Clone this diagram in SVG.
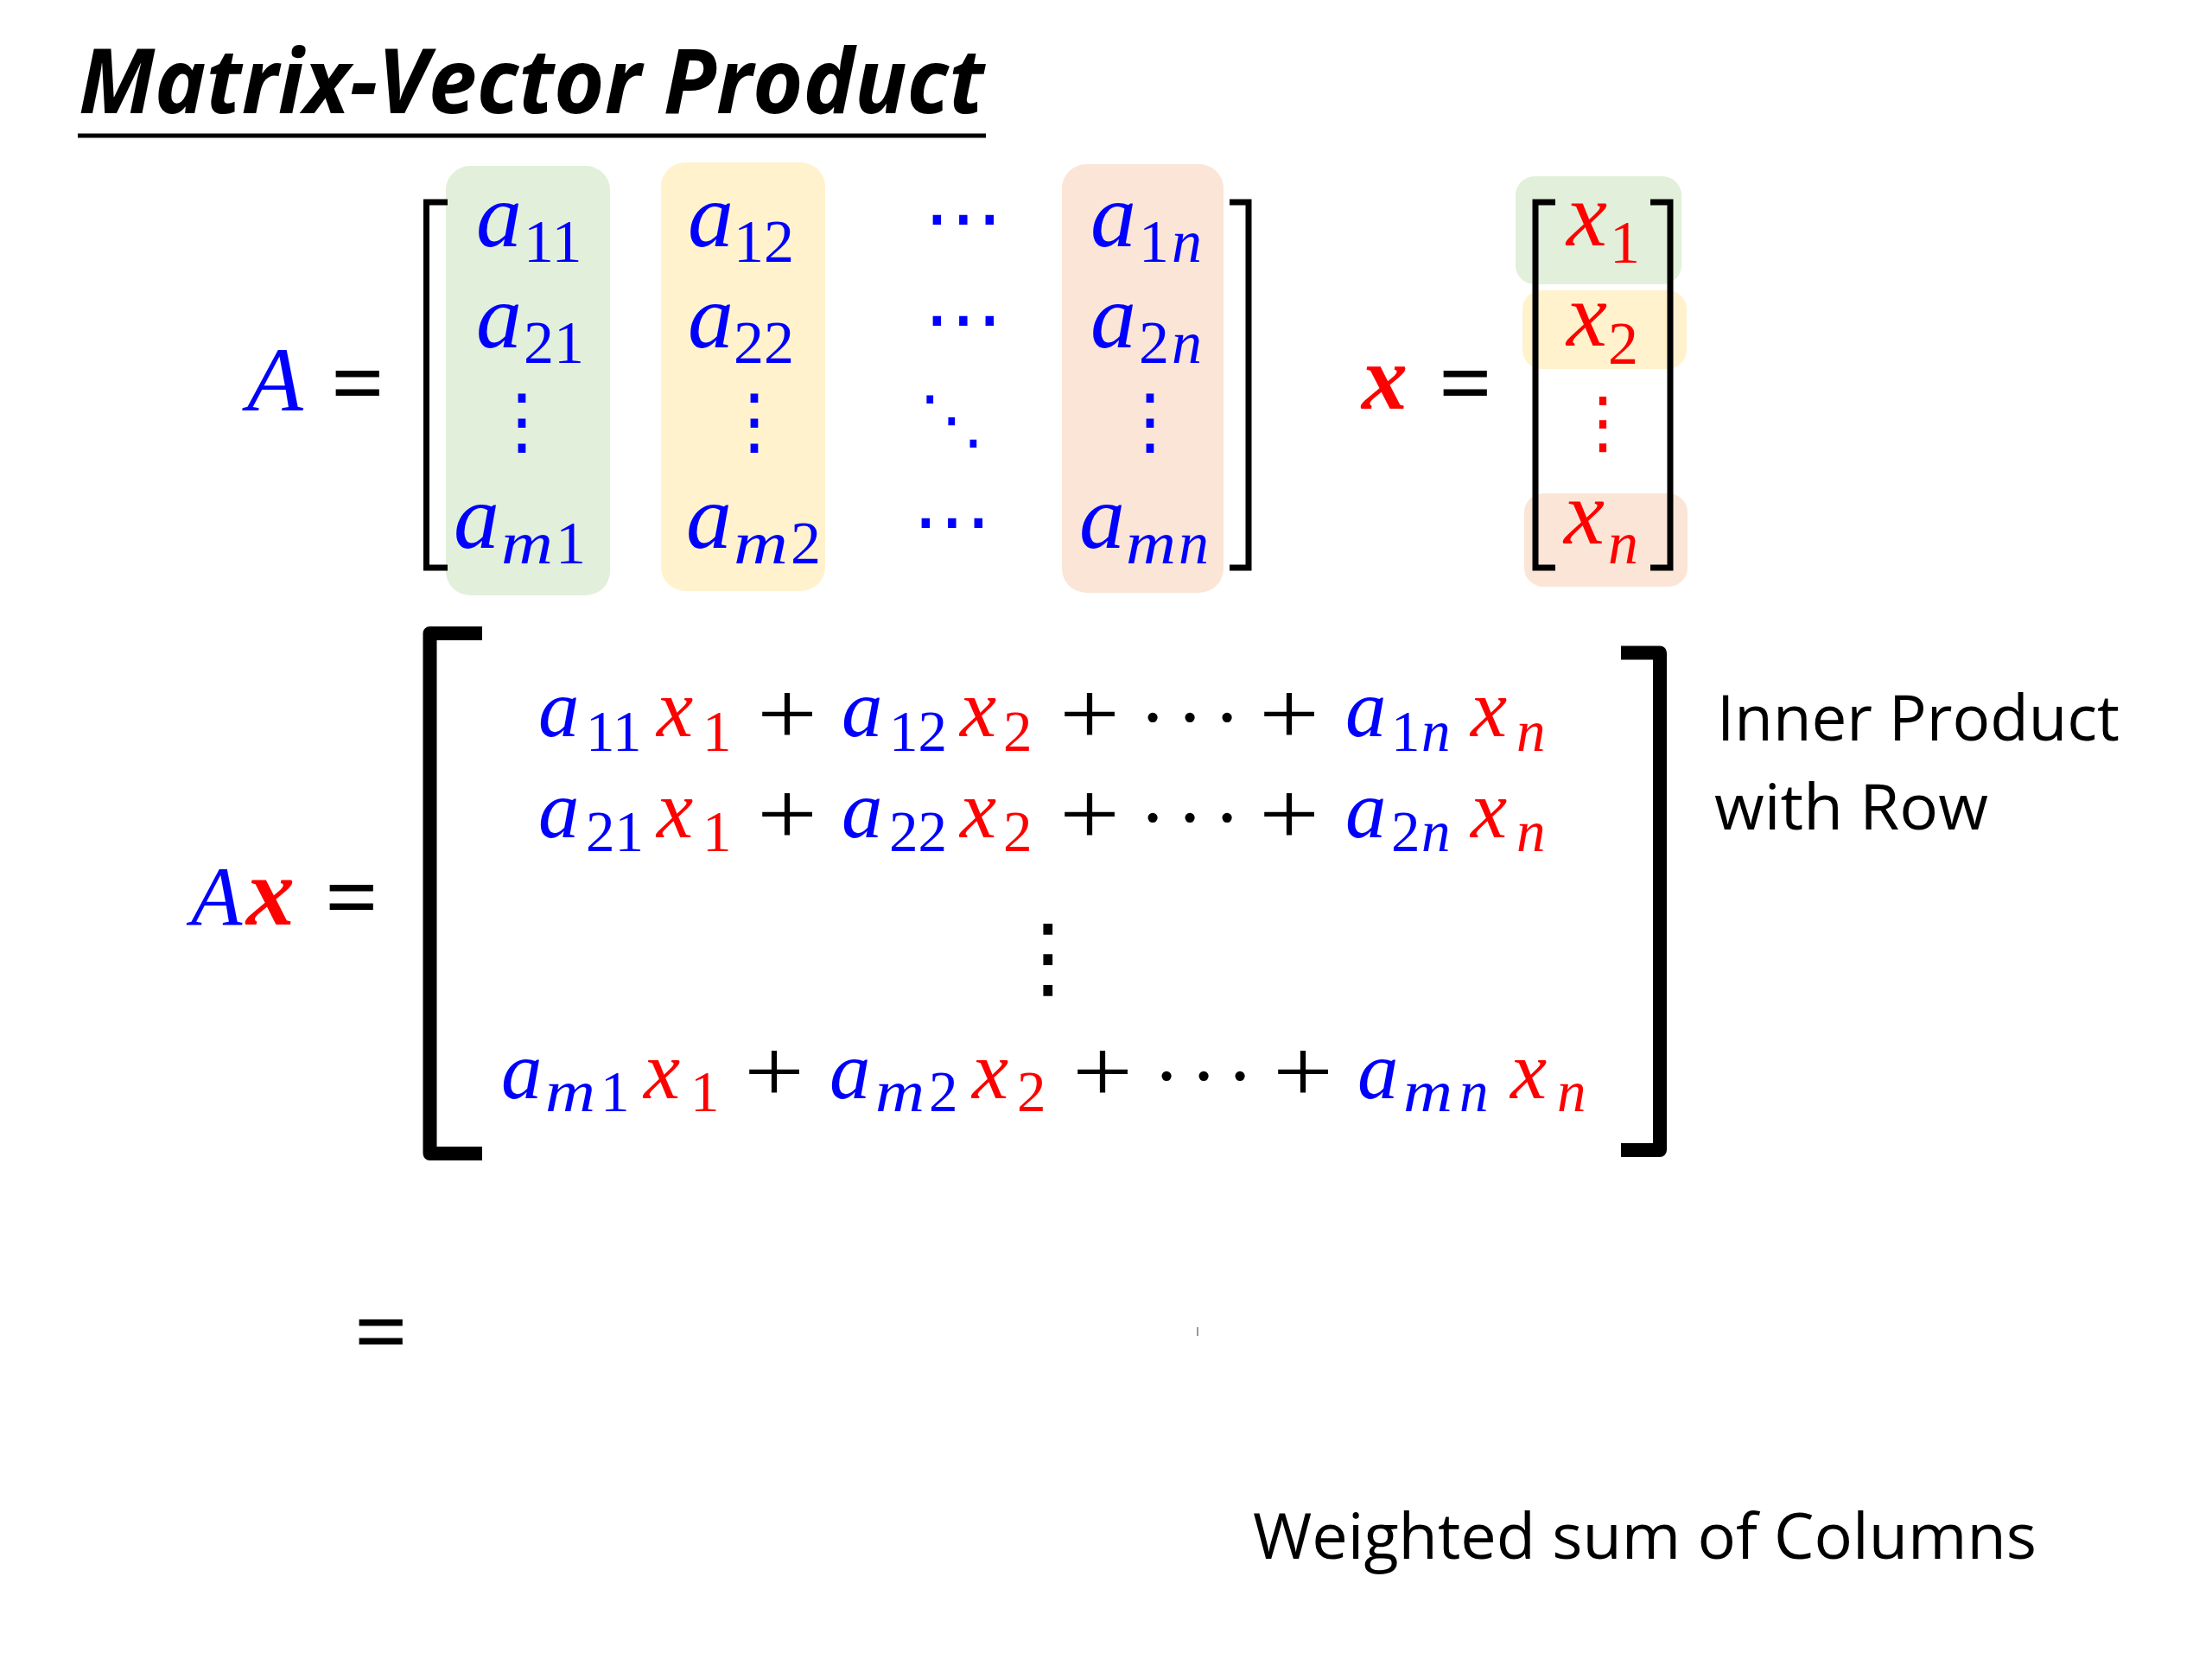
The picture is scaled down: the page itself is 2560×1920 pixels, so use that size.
<svg xmlns="http://www.w3.org/2000/svg" width="2560" height="1920" viewBox="0 0 2560 1920">
<style>
.m{font-family:"Liberation Serif",serif;font-style:italic}
.up{font-style:normal}
.bi{font-weight:bold}
.b{fill:#0000FF}.r{fill:#FF0000}.k{fill:#000}
.big{font-size:106px}.sub{font-size:70px}
.lo{font-size:95px}.losub{font-size:67px}
.el{font-family:"DejaVu Sans",sans-serif;text-anchor:middle}
.ldt{font-family:"Liberation Serif",serif;font-size:95px;text-anchor:middle;fill:#000}
.pl{font-family:"Liberation Serif",serif;font-size:104px;text-anchor:middle;fill:#000}
.eq{font-family:"Liberation Serif",serif;font-size:108px;font-weight:bold;text-anchor:middle;fill:#000}
.sans{font-family:"Open Sans","Noto Sans",sans-serif;font-size:74px;fill:#000}
.brk{fill:none;stroke:#000;stroke-width:7}
.bbrk{fill:none;stroke:#000;stroke-width:16;stroke-linejoin:round}
.g{fill:#E2EFDA}.y{fill:#FFF2CC}.s{fill:#FBE5D6}
</style>
<rect width="2560" height="1920" fill="#fff"/>

<g id="title">
<text x="91" y="131" font-family="'Open Sans','Noto Sans',sans-serif" font-size="104" font-weight="bold" font-style="italic" textLength="1048" lengthAdjust="spacingAndGlyphs">Matrix-Vector Product</text>
<line x1="90" y1="157" x2="1141" y2="157" stroke="#000" stroke-width="5"/>
</g>

<g id="matrix-A">
<rect class="g" x="516" y="192" width="190" height="497" rx="28"/>
<rect class="y" x="765" y="188" width="190" height="496" rx="28"/>
<rect class="s" x="1229" y="190" width="187" height="496" rx="28"/>
<text class="m big b" x="286" y="475">A</text>
<text class="eq" x="414" y="479">=</text>
<path class="brk" d="M518,234 H493.5 V657 H518"/>
<path class="brk" d="M1423,234 H1445 V657 H1423"/>
<text class="m big b" x="551" y="285">a<tspan class="sub up" x="606" y="303">11</tspan></text>
<text class="m big b" x="551" y="402">a<tspan class="sub up" x="606" y="420">21</tspan></text>
<text class="m big b" x="525" y="634">a</text>
<text class="m sub b" x="580" y="652" textLength="60" lengthAdjust="spacingAndGlyphs">m</text>
<text class="m sub up b" x="643" y="652">1</text>
<text class="m big b" x="796" y="285">a<tspan class="sub up" x="849" y="303">12</tspan></text>
<text class="m big b" x="796" y="402">a<tspan class="sub up" x="849" y="420">22</tspan></text>
<text class="m big b" x="794" y="634">a</text>
<text class="m sub b" x="849" y="652" textLength="63" lengthAdjust="spacingAndGlyphs">m</text>
<text class="m sub up b" x="915" y="652">2</text>
<text class="m big b" x="1262" y="285">a<tspan class="sub up" x="1318" y="303">1</tspan><tspan class="sub" x="1356" y="303">n</tspan></text>
<text class="m big b" x="1262" y="402">a<tspan class="sub up" x="1318" y="420">2</tspan><tspan class="sub" x="1356" y="420">n</tspan></text>
<text class="m big b" x="1249" y="634">a</text>
<text class="m sub b" x="1303" y="652" textLength="58" lengthAdjust="spacingAndGlyphs">m</text>
<text class="m sub b" x="1364" y="652">n</text>
<text class="el b" font-size="92" x="1115" y="283">⋯</text>
<text class="el b" font-size="92" x="1115" y="400">⋯</text>
<text class="el b" font-size="75" x="1101" y="511">⋱</text>
<text class="el b" font-size="92" x="1102" y="634">⋯</text>
<text class="el b" font-size="85" x="604" y="516">⋮</text>
<text class="el b" font-size="85" x="873" y="516">⋮</text>
<text class="el b" font-size="85" x="1331" y="516">⋮</text>
</g>

<g id="vector-x">
<rect class="g" x="1754" y="204" width="192" height="125" rx="22"/>
<rect class="y" x="1762" y="336" width="190" height="91" rx="22"/>
<rect class="s" x="1764" y="571" width="189" height="108" rx="22"/>
<text class="m big r bi" x="1576" y="473">x</text>
<text class="eq" x="1696" y="479">=</text>
<path class="brk" d="M1800,234 H1777 V657 H1800"/>
<path class="brk" d="M1910,234 H1933 V657 H1910"/>
<text class="m big r" x="1813" y="284">x<tspan class="sub up" x="1863" y="304">1</tspan></text>
<text class="m big r" x="1813" y="400">x<tspan class="sub up" x="1861" y="421">2</tspan></text>
<text class="m big r" x="1810" y="629">x<tspan class="sub" x="1861" y="652">n</tspan></text>
<text class="el r" font-size="80" x="1855" y="516">⋮</text>
</g>

<g id="product-Ax">
<text class="m b" font-size="97" x="221" y="1070">A</text>
<text class="m r bi" font-size="112" x="285" y="1070">x</text>
<text class="eq" x="407" y="1074">=</text>
<path class="bbrk" d="M558,733 H497.5 V1335 H558"/>
<path class="bbrk" d="M1876,755.5 H1921 V1331 H1876"/>

<g id="row-1">
<text class="m lo b" x="623" y="852">a<tspan class="losub up" x="678" y="869">11</tspan></text>
<text class="m lo r" x="760" y="852">x<tspan class="losub up" x="813" y="869">1</tspan></text>
<text class="pl" x="911" y="861" textLength="70" lengthAdjust="spacingAndGlyphs">+</text>
<text class="m lo b" x="974" y="852">a<tspan class="losub up" x="1029" y="869">12</tspan></text>
<text class="m lo r" x="1111" y="852">x<tspan class="losub up" x="1161" y="869">2</tspan></text>
<text class="pl" x="1261" y="861" textLength="70" lengthAdjust="spacingAndGlyphs">+</text>
<text class="ldt" x="1334 1377 1420" y="862">···</text>
<text class="pl" x="1492" y="861" textLength="70" lengthAdjust="spacingAndGlyphs">+</text>
<text class="m lo b" x="1557" y="852">a<tspan class="losub up" x="1610" y="869">1</tspan><tspan class="losub" x="1645" y="869">n</tspan></text>
<text class="m lo r" x="1702" y="852">x<tspan class="losub" x="1755" y="869">n</tspan></text>
</g>

<g id="row-2">
<text class="m lo b" x="623" y="969">a<tspan class="losub up" x="678" y="985">21</tspan></text>
<text class="m lo r" x="760" y="969">x<tspan class="losub up" x="813" y="985">1</tspan></text>
<text class="pl" x="911" y="977" textLength="70" lengthAdjust="spacingAndGlyphs">+</text>
<text class="m lo b" x="974" y="969">a<tspan class="losub up" x="1029" y="985">22</tspan></text>
<text class="m lo r" x="1111" y="969">x<tspan class="losub up" x="1161" y="985">2</tspan></text>
<text class="pl" x="1261" y="977" textLength="70" lengthAdjust="spacingAndGlyphs">+</text>
<text class="ldt" x="1334 1377 1420" y="978">···</text>
<text class="pl" x="1492" y="977" textLength="70" lengthAdjust="spacingAndGlyphs">+</text>
<text class="m lo b" x="1557" y="969">a<tspan class="losub up" x="1610" y="985">2</tspan><tspan class="losub" x="1645" y="985">n</tspan></text>
<text class="m lo r" x="1702" y="969">x<tspan class="losub" x="1755" y="985">n</tspan></text>
</g>

<text class="el k" font-size="104" x="1213" y="1143">⋮</text>

<g id="row-m">
<text class="m lo b" x="580" y="1271">a</text>
<text class="m losub b" x="631" y="1286" textLength="58" lengthAdjust="spacingAndGlyphs">m</text>
<text class="m losub up b" x="695" y="1286">1</text>
<text class="m lo r" x="745" y="1271">x<tspan class="losub up" x="799" y="1286">1</tspan></text>
<text class="pl" x="896" y="1275" textLength="70" lengthAdjust="spacingAndGlyphs">+</text>
<text class="m lo b" x="960" y="1271">a</text>
<text class="m losub b" x="1013" y="1286" textLength="57" lengthAdjust="spacingAndGlyphs">m</text>
<text class="m losub up b" x="1075" y="1286">2</text>
<text class="m lo r" x="1125" y="1271">x<tspan class="losub up" x="1177" y="1286">2</tspan></text>
<text class="pl" x="1276" y="1275" textLength="70" lengthAdjust="spacingAndGlyphs">+</text>
<text class="ldt" x="1350 1393 1435" y="1277">···</text>
<text class="pl" x="1508" y="1275" textLength="70" lengthAdjust="spacingAndGlyphs">+</text>
<text class="m lo b" x="1571" y="1271">a</text>
<text class="m losub b" x="1624" y="1286" textLength="57" lengthAdjust="spacingAndGlyphs">m</text>
<text class="m losub b" x="1689" y="1286">n</text>
<text class="m lo r" x="1748" y="1271">x<tspan class="losub" x="1802" y="1286">n</tspan></text>
</g>
</g>

<g id="label-inner">
<text class="sans" x="1987" y="857" textLength="466" lengthAdjust="spacingAndGlyphs">Inner Product</text>
<text class="sans" x="1984" y="960" textLength="317" lengthAdjust="spacingAndGlyphs">with Row</text>
</g>

<g id="weighted-sum">
<text class="eq" x="441" y="1577">=</text>
<line x1="1386" y1="1536" x2="1386" y2="1546" stroke="#999" stroke-width="2"/>
<text class="sans" x="1450" y="1804" textLength="907" lengthAdjust="spacingAndGlyphs">Weighted sum of Columns</text>
</g>

<g id="connectors"></g>
</svg>
